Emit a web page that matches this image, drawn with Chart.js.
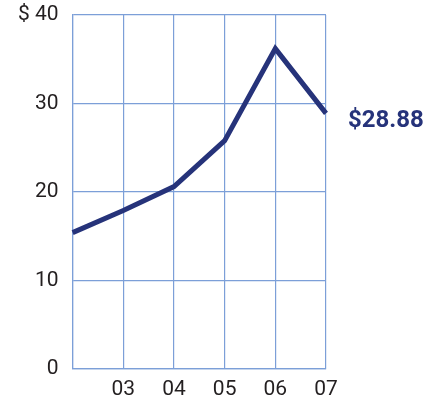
<!DOCTYPE html>
<html>
<head>
<meta charset="utf-8">
<script src="https://cdn.jsdelivr.net/npm/chart.js@4"></script>
<style>
  html, body { margin: 0; padding: 0; background: #fff; }
  #wrap { width: 427px; height: 402px; position: relative; }
</style>
</head>
<body>
<div id="wrap"><canvas id="c"></canvas></div>
<script>
// Share price by year (first point is the 2002 starting value, unlabelled)
const years = ['02', '03', '04', '05', '06', '07'];
const prices = [15.4, 17.9, 20.6, 25.8, 36.2, 28.88];
const yTicks = [0, 10, 20, 30, 40];
const lastLabel = '$28.88';

const lineColor = '#26337a';
const gridColor = '#7c9fd8';
const textColor = '#231f20';
const tickFont = { family: 'Roboto, "Liberation Sans", sans-serif', size: 21 };

// Writes the latest price to the right of the final point
const endLabel = {
  id: 'endLabel',
  afterDatasetsDraw(chart) {
    const { ctx, scales } = chart;
    const i = prices.length - 1;
    const x = scales.x.getPixelForValue(i);
    const y = scales.y.getPixelForValue(prices[i]);
    ctx.save();
    ctx.font = 'bold 24px Roboto, "Liberation Sans", sans-serif';
    ctx.fillStyle = lineColor;
    ctx.textAlign = 'left';
    ctx.textBaseline = 'middle';
    ctx.fillText(lastLabel, x + 22, y + 8);
    ctx.restore();
  }
};

new Chart(document.getElementById('c'), {
  type: 'line',
  data: {
    labels: years,
    datasets: [{
      data: prices,
      borderColor: lineColor,
      borderWidth: 5,
      pointRadius: 0,
      tension: 0,
      fill: false
    }]
  },
  options: {
    responsive: true,
    maintainAspectRatio: false,
    animation: false,
    layout: { padding: { top: 15, right: 101, left: 4, bottom: 1 } },
    plugins: { legend: { display: false }, tooltip: { enabled: false } },
    scales: {
      x: {
        offset: false,
        // trim the reserved band under the plot so the year labels sit near the bottom edge
        afterFit: (s) => { s.height -= 9; },
        grid: { color: gridColor, lineWidth: 1.2, drawTicks: false },
        border: { color: gridColor, width: 1.2 },
        ticks: {
          color: textColor,
          font: tickFont,
          padding: 8,
          maxRotation: 0,
          autoSkip: false,
          callback: (v, i) => (i === 0 ? '' : years[i])
        }
      },
      y: {
        min: 0,
        max: 40,
        afterBuildTicks: (s) => { s.ticks = yTicks.map(v => ({ value: v })); },
        // let the layout padding alone set the vertical extent of the plot
        afterFit: (s) => { s.paddingTop = 0; s.paddingBottom = 0; },
        grid: { color: gridColor, lineWidth: 1.2, drawTicks: false },
        border: { color: gridColor, width: 1.2 },
        ticks: {
          color: textColor,
          font: tickFont,
          padding: 14,
          callback: (v) => (v === 40 ? '$ 40' : String(v))
        }
      }
    }
  },
  plugins: [endLabel]
});
</script>
</body>
</html>
